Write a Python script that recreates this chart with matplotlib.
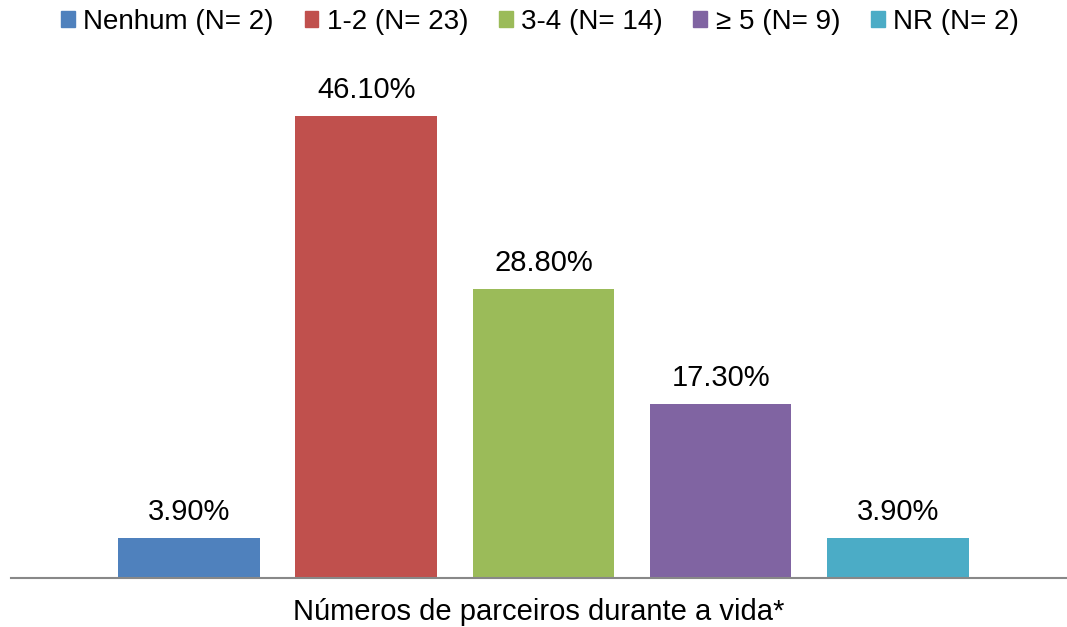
import matplotlib.pyplot as plt
import matplotlib.patches as mpatches

plt.rcParams['font.family'] = ['Liberation Sans', 'DejaVu Sans']

# dados
categorias = ["Nenhum (N= 2)", "1-2 (N= 23)", "3-4 (N= 14)", "\u2265 5 (N= 9)", "NR (N= 2)"]
valores = [3.9, 46.1, 28.8, 17.3, 3.9]
cores = ["#4F81BD", "#C0504D", "#9BBB59", "#8064A2", "#4BACC6"]
titulo_x = "Números de parceiros durante a vida*"

fig = plt.figure(figsize=(10.67, 6.27), dpi=100)
W, H = 1067, 627
ax = fig.add_axes([11 / W, 1 - 577.5 / H, (1067 - 11) / W, (577.5 - 77) / H])

pos = list(range(len(valores)))
barras = ax.bar(pos, valores, width=0.80, color=cores)

for b, v in zip(barras, valores):
    ax.annotate(f"{v:.2f}%", (b.get_x() + b.get_width() / 2, v),
                xytext=(0, 9), textcoords="offset points",
                ha="center", va="bottom", fontsize=21)

ax.set_xlim(-1.005, 4.955)
ax.set_ylim(0, 50)
ax.set_yticks([])
ax.set_xticks([])
for s in ["top", "right", "left"]:
    ax.spines[s].set_visible(False)
ax.spines["bottom"].set_color("#888888")
ax.spines["bottom"].set_linewidth(1.5)

ax.set_xlabel(titulo_x, fontsize=21, labelpad=15)

handles = [mpatches.Patch(color=c, label=l) for c, l in zip(cores, categorias)]
fig.legend(handles=handles, loc="center", bbox_to_anchor=(540 / W, 1 - 22 / H),
           ncol=5, frameon=False, fontsize=20, handlelength=0.5,
           handleheight=0.5, handletextpad=0.3, columnspacing=1.1,
           borderaxespad=0, borderpad=0)

fig.savefig("out.png", dpi=100)
